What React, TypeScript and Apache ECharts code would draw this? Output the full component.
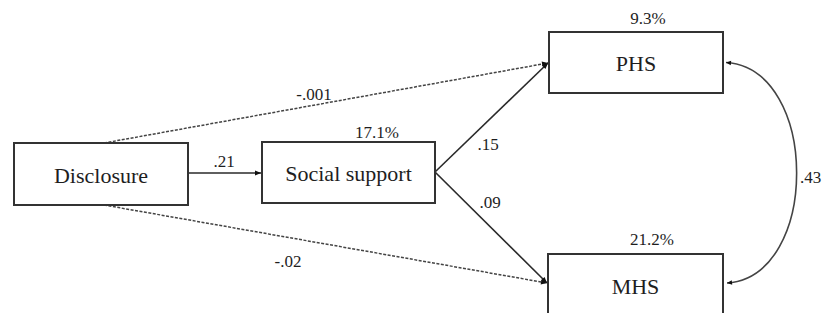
import React, { useEffect, useRef } from "react";
import * as echarts from "echarts";

// ---- data ----
const nodeNames = ["Disclosure", "Social support", "PHS", "MHS"];
const explainedVariance = ["", "17.1%", "9.3%", "21.2%"];
const pathFrom = [0, 0, 0, 1, 1];
const pathTo = [1, 2, 3, 2, 3];
const pathCoefficients = [".21", "-.001", "-.02", ".15", ".09"];
const pathSignificant = [true, false, false, true, true];
const covariancePair = [2, 3];
const covarianceValue = ".43";

// ---- layout (positions, not data) ----
const boxes: number[][] = [
  [14, 143, 174, 62],
  [262, 142, 173, 61],
  [549, 32, 174, 61],
  [548, 254, 175, 62],
];
const edgeStart: number[][] = [
  [188, 173],
  [104, 143],
  [104, 205],
  [435, 172],
  [435, 172],
];
const edgeEnd: number[][] = [
  [261, 173],
  [548, 63],
  [547, 283],
  [548, 63],
  [547, 283],
];
const edgeLabelPos: number[][] = [
  [224, 161],
  [314, 94],
  [288, 261],
  [488, 144],
  [490, 202],
];
const varianceLabelPos: number[][] = [
  [0, 0],
  [377, 132],
  [648, 18],
  [652, 239],
];

const FONT = "Liberation Serif";
const INK = "#2a2a2a";

function arrowHead(tip: number[], from: number[], len = 6, half = 2.6) {
  const dx = tip[0] - from[0];
  const dy = tip[1] - from[1];
  const d = Math.sqrt(dx * dx + dy * dy);
  const ux = dx / d;
  const uy = dy / d;
  const bx = tip[0] - ux * len;
  const by = tip[1] - uy * len;
  return {
    type: "polygon",
    shape: {
      points: [
        [tip[0], tip[1]],
        [bx - uy * half, by + ux * half],
        [bx + uy * half, by - ux * half],
      ],
    },
    style: { fill: "#111" },
    silent: true,
  };
}

function label(text: string, x: number, y: number, size: number, align = "center") {
  return {
    type: "text",
    x,
    y,
    style: {
      text,
      fontFamily: FONT,
      fontSize: size,
      fill: "#1e1e1e",
      align,
      verticalAlign: "middle",
    },
    silent: true,
  };
}

export default function App() {
  const ref = useRef<HTMLDivElement>(null);
  useEffect(() => {
    if (!ref.current) return;
    const chart = echarts.init(ref.current, undefined, { renderer: "svg" });
    const elements: any[] = [];

    // paths
    pathFrom.forEach((f, i) => {
      const s = edgeStart[i];
      const e = edgeEnd[i];
      elements.push({
        type: "line",
        shape: { x1: s[0], y1: s[1], x2: e[0], y2: e[1] },
        style: pathSignificant[i]
          ? { stroke: INK, lineWidth: 1.6 }
          : { stroke: "#444", lineWidth: 1.5, lineDash: [3, 1.5] },
        silent: true,
      });
      elements.push(arrowHead(e, s));
      elements.push(label(pathCoefficients[i], edgeLabelPos[i][0], edgeLabelPos[i][1], 17));
      void f;
      void pathTo;
    });

    // covariance curve
    const a = boxes[covariancePair[0]];
    const b = boxes[covariancePair[1]];
    const p0 = [a[0] + a[2] + 3, a[1] + a[3] / 2];
    const p3 = [b[0] + b[2] + 4, b[1] + 29];
    const c1 = [820, p0[1] + 6];
    const c2 = [820, p3[1] - 6];
    elements.push({
      type: "bezierCurve",
      shape: {
        x1: p0[0], y1: p0[1], x2: p3[0], y2: p3[1],
        cpx1: c1[0], cpy1: c1[1], cpx2: c2[0], cpy2: c2[1],
      },
      style: { stroke: "#444", lineWidth: 1.6, fill: null },
      silent: true,
    });
    elements.push(arrowHead(p0, [p0[0] + 10, p0[1] + 1], 5, 2.2));
    elements.push(arrowHead(p3, [p3[0] + 10, p3[1] - 1], 5, 2.2));
    elements.push(label(covarianceValue, 800, 177, 17, "left"));

    // boxes
    nodeNames.forEach((name, i) => {
      const [x, y, w, h] = boxes[i];
      elements.push({
        type: "rect",
        shape: { x, y, width: w, height: h },
        style: { fill: "#fff", stroke: "#333", lineWidth: 2 },
        silent: true,
      });
      elements.push(label(name, x + w / 2, y + h / 2 + 1, 22));
      if (explainedVariance[i]) {
        elements.push(label(explainedVariance[i], varianceLabelPos[i][0], varianceLabelPos[i][1], 17));
      }
    });

    chart.setOption({
      animation: false,
      backgroundColor: "#fff",
      graphic: { elements },
    });
    return () => chart.dispose();
  }, []);
  return (
    <div
      ref={ref}
      style={{ position: "fixed", left: 0, top: 0, width: 822, height: 313 }}
    />
  );
}
